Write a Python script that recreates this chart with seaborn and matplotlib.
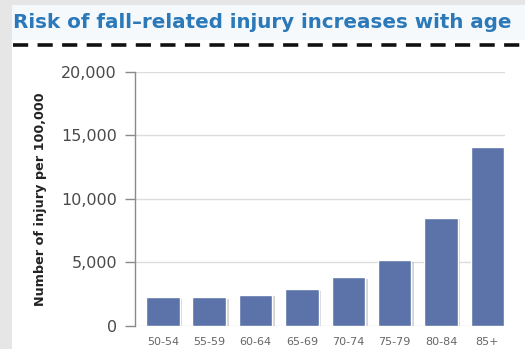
import matplotlib
matplotlib.use("Agg")
import matplotlib.pyplot as plt
import matplotlib.patheffects as pe
from matplotlib.patches import Rectangle
from matplotlib.lines import Line2D
from matplotlib.ticker import FuncFormatter
import seaborn as sns
import pandas as pd

age_groups = ["50-54", "55-59", "60-64", "65-69", "70-74", "75-79", "80-84", "85+"]
injury_rate = [2250, 2250, 2450, 2880, 3830, 5180, 8500, 14100]
y_ticks = [0, 5000, 10000, 15000, 20000]

title = "Risk of fall\u2013related injury increases with age"
y_label = "Number of injury per 100,000"

sns.set_theme(style="white")
plt.rcParams['font.family'] = ['DejaVu Sans']

W, H = 525, 349
fig = plt.figure(figsize=(W / 100, H / 100), dpi=100)
fig.patch.set_facecolor("#e6e6e6")

# white panel
fig.patches.append(Rectangle((12 / W, 0), 1, 1 - 5 / H, transform=fig.transFigure,
                             facecolor="white", edgecolor="none", zorder=-2))
# title band
fig.patches.append(Rectangle((12 / W, 1 - 40 / H), 1, 35 / H, transform=fig.transFigure,
                             facecolor="#f6f9fc", edgecolor="none", zorder=-1))

fig.text(13 / W, 1 - 22 / H, title, color="#2b79b8", fontsize=14.3,
         fontweight="bold", va="center", ha="left")
fig.lines.append(Line2D([13 / W, 1], [1 - 45 / H, 1 - 45 / H], transform=fig.transFigure,
                        color="#111111", lw=2.6, linestyle=(0, (4.2, 2.6))))

ax = fig.add_axes([135 / W, 1 - 326 / H, (505 - 135) / W, (326 - 71.7) / H])
ax.set_zorder(2)
ax.set_facecolor("white")

df = pd.DataFrame({"age": age_groups, "rate": injury_rate})
sns.barplot(data=df, x="age", y="rate", color="#5b73a9", saturation=1, width=0.72,
            ax=ax, zorder=3)
for p in ax.patches:
    p.set_path_effects([pe.SimplePatchShadow(offset=(2, -1), shadow_rgbFace="#888888", alpha=0.35),
                        pe.Normal()])

ax.set_ylim(0, 20000)
ax.set_xlim(-0.6, 7.38)
ax.set_yticks(y_ticks)
ax.yaxis.set_major_formatter(FuncFormatter(lambda v, _: f"{int(v):,}"))
ax.grid(axis="y", color="#dcdcdc", lw=1, zorder=0)
ax.set_axisbelow(True)
for s in ["top", "right", "bottom"]:
    ax.spines[s].set_visible(False)
ax.spines["left"].set_color("#8a8a8a")
ax.spines["left"].set_linewidth(1)

ax.tick_params(axis="y", left=True, length=7, width=1, color="#8a8a8a",
               labelsize=11.5, labelcolor="#4a4a4a", pad=6)
ax.tick_params(axis="x", bottom=False, labelsize=8, labelcolor="#666666", pad=2)
ax.set_xlabel("")
ax.set_ylabel(y_label, fontsize=9.2, fontweight="bold", color="#222222", labelpad=10)

fig.savefig("out.png", dpi=100, facecolor=fig.get_facecolor())
